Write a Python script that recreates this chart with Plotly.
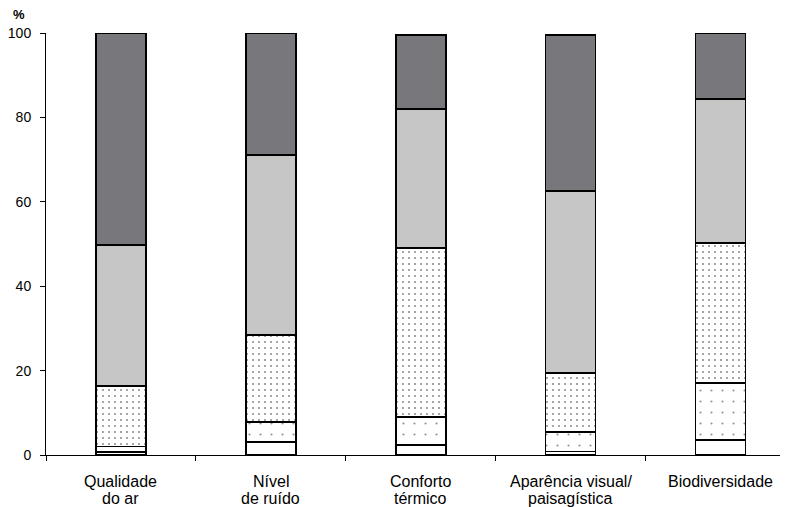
import plotly.graph_objects as go

categories = ["Qualidade do ar", "Nível de ruído", "Conforto térmico",
              "Aparência visual/ paisagística", "Biodiversidade"]
label_line1 = ["Qualidade", "Nível", "Conforto", "Aparência visual/", "Biodiversidade"]
label_line2 = ["do ar", "de ruído", "térmico", "paisagística", ""]
# stacked segment heights (bottom -> top), in %
seg_white = [0.7, 3.1, 2.4, 0.8, 3.6]
seg_sparse = [1.3, 4.7, 6.6, 4.7, 13.4]
seg_dense = [14.4, 20.6, 40.1, 13.9, 33.2]
seg_light = [33.4, 42.7, 32.9, 43.2, 34.1]
seg_dark = [50.2, 28.9, 17.5, 36.9, 15.7]

y_ticks = [0, 20, 40, 60, 80, 100]

# figure geometry (page has 8px body margin)
FW, FH = 780, 499
ML, MR, MT, MB = 38, 0, 25, 52
PW, PH = FW - ML - MR, FH - MT - MB
OFF = 8


def px_to_paper_x(px):
    return (px - OFF - ML) / PW


def px_to_paper_y(py):
    return (FH - MB - (py - OFF)) / PH


fig = go.Figure()
line = dict(color="black", width=1.6)
W = 0.333

fig.add_trace(go.Bar(x=categories, y=seg_white, width=W,
                     marker=dict(color="white", line=line)))
fig.add_trace(go.Bar(x=categories, y=seg_sparse, width=W,
                     marker=dict(color="white", line=line,
                                 pattern=dict(shape=".", size=11, solidity=0.03, fgcolor="#222"))))
fig.add_trace(go.Bar(x=categories, y=seg_dense, width=W,
                     marker=dict(color="white", line=line,
                                 pattern=dict(shape=".", size=6, solidity=0.1, fgcolor="#222"))))
fig.add_trace(go.Bar(x=categories, y=seg_light, width=W,
                     marker=dict(color="#c6c6c6", line=line)))
fig.add_trace(go.Bar(x=categories, y=seg_dark, width=W,
                     marker=dict(color="#78787c", line=line)))

annotations = [dict(text="<b>%</b>", x=px_to_paper_x(19), y=px_to_paper_y(14.5),
                    xref="paper", yref="paper", showarrow=False,
                    xanchor="center", yanchor="middle", font=dict(size=13))]
for c, l1, l2 in zip(categories, label_line1, label_line2):
    annotations.append(dict(text=l1, x=c, y=px_to_paper_y(481), xref="x", yref="paper",
                            showarrow=False, xanchor="center", yanchor="middle",
                            font=dict(size=16)))
    if l2:
        annotations.append(dict(text=l2, x=c, y=px_to_paper_y(498.5), xref="x", yref="paper",
                                showarrow=False, xanchor="center", yanchor="middle",
                                font=dict(size=16)))

fig.update_layout(
    barmode="stack",
    width=FW, height=FH,
    margin=dict(l=ML, r=MR, t=MT, b=MB, pad=0),
    paper_bgcolor="white", plot_bgcolor="white",
    showlegend=False,
    font=dict(family="Liberation Sans, Arial, sans-serif", color="black", size=14),
    xaxis=dict(type="category", range=[-0.5, 4.45], tickson="boundaries",
               ticks="outside", ticklen=5, tickcolor="black", tickwidth=1,
               showline=True, linecolor="black", linewidth=1, showgrid=False,
               showticklabels=False, automargin=False),
    yaxis=dict(range=[0, 100], tickvals=y_ticks, ticks="outside", ticklen=5,
               tickcolor="black", showline=True, linecolor="black", linewidth=1,
               showgrid=False, zeroline=False, tickfont=dict(size=14),
               ticklabelstandoff=6, automargin=False),
    annotations=annotations,
)

fig.write_html("out.html")
